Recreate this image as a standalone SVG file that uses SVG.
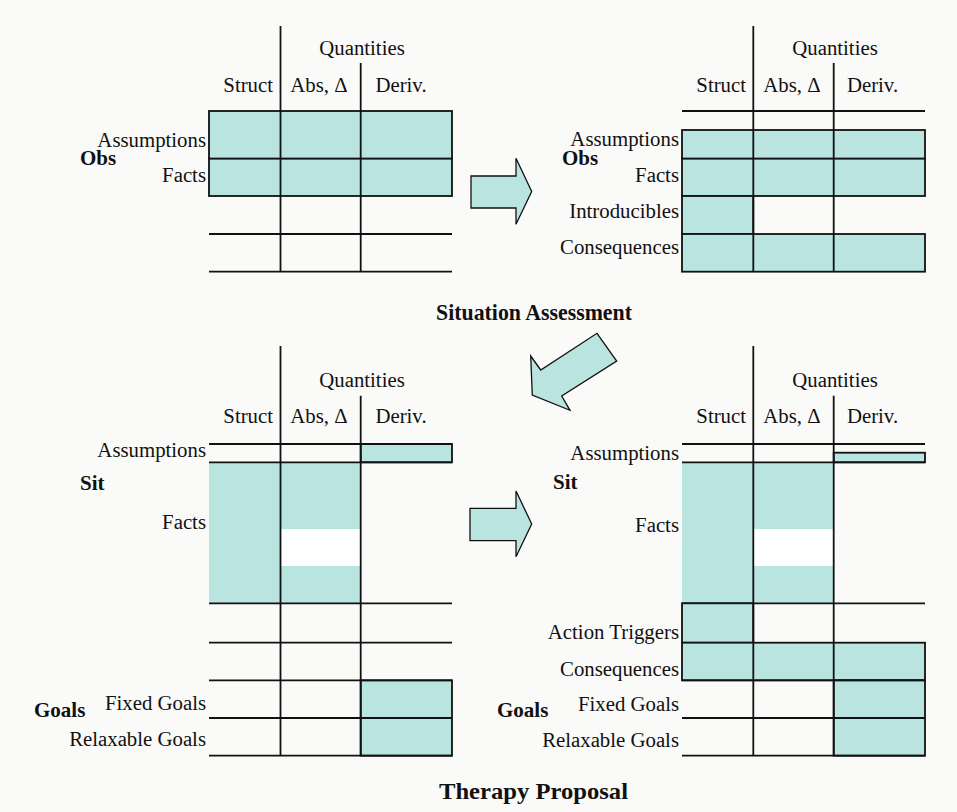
<svg xmlns="http://www.w3.org/2000/svg" width="957" height="812" viewBox="0 0 957 812">
<style>
.t{font-family:"Liberation Serif","Times New Roman",serif;font-size:20.8px;fill:#111}
.b{font-family:"Liberation Serif","Times New Roman",serif;font-size:21px;font-weight:bold;fill:#111}
.h{font-family:"Liberation Serif","Times New Roman",serif;font-size:23px;font-weight:bold;fill:#111}
.r{text-anchor:end}
.m{text-anchor:middle}
.ln{stroke:#111;stroke-width:1.8;fill:none}
.f{fill:#b9e4e0;stroke:#111;stroke-width:1.8}
.fn{fill:#b9e4e0;stroke:none}
.ar{fill:#b9e4e0;stroke:#111;stroke-width:1.3;stroke-linejoin:miter}
</style>
<rect width="957" height="812" fill="#fafaf9"/>

<g id="table-obs">
<rect class="f" x="209" y="111" width="243" height="47.7"/>
<rect class="f" x="209" y="158.7" width="243" height="37.3"/>
<line class="ln" x1="209" y1="234" x2="452" y2="234"/>
<line class="ln" x1="209" y1="271.7" x2="452" y2="271.7"/>
<line class="ln" x1="280.5" y1="26" x2="280.5" y2="271.7"/>
<line class="ln" x1="360.7" y1="63" x2="360.7" y2="271.7"/>
<text class="t m" x="362" y="55">Quantities</text>
<text class="t r" x="273" y="92">Struct</text>
<text class="t m" x="319" y="92">Abs, Δ</text>
<text class="t m" x="401" y="92">Deriv.</text>
<text class="t r" x="206" y="146.7">Assumptions</text>
<text class="b" x="80" y="164.5">Obs</text>
<text class="t r" x="206" y="181.7">Facts</text>
</g>

<g id="table-assessed">
<line class="ln" x1="682" y1="111" x2="925" y2="111"/>
<rect class="f" x="682" y="130" width="243" height="28.7"/>
<rect class="f" x="682" y="158.7" width="243" height="37.3"/>
<rect class="f" x="682" y="196" width="71.3" height="38"/>
<rect class="f" x="682" y="234" width="243" height="37.7"/>
<line class="ln" x1="753.3" y1="26" x2="753.3" y2="271.7"/>
<line class="ln" x1="833.7" y1="63" x2="833.7" y2="271.7"/>
<text class="t m" x="835" y="55">Quantities</text>
<text class="t r" x="746" y="92">Struct</text>
<text class="t m" x="792" y="92">Abs, Δ</text>
<text class="t m" x="872.5" y="92">Deriv.</text>
<text class="t r" x="679" y="145.7">Assumptions</text>
<text class="b" x="562" y="165">Obs</text>
<text class="t r" x="679" y="181.7">Facts</text>
<text class="t r" x="679" y="218.3">Introducibles</text>
<text class="t r" x="679" y="254">Consequences</text>
</g>

<text id="title-assessment" class="h" x="436" y="320" textLength="196" lengthAdjust="spacingAndGlyphs">Situation Assessment</text>

<g id="table-sit">
<rect class="fn" x="209" y="462.3" width="151.7" height="141"/>
<rect x="281" y="529" width="79" height="37" fill="#ffffff"/>
<rect class="f" x="360.7" y="444" width="91.3" height="18.3"/>
<line class="ln" x1="209" y1="444" x2="452" y2="444"/>
<line class="ln" x1="209" y1="462.3" x2="452" y2="462.3"/>
<line class="ln" x1="209" y1="603.3" x2="452" y2="603.3"/>
<line class="ln" x1="209" y1="642.7" x2="452" y2="642.7"/>
<rect class="f" x="360.7" y="680.3" width="91.3" height="75.4"/>
<line class="ln" x1="209" y1="680.3" x2="452" y2="680.3"/>
<line class="ln" x1="209" y1="718" x2="452" y2="718"/>
<line class="ln" x1="209" y1="755.7" x2="452" y2="755.7"/>
<line class="ln" x1="280.5" y1="346" x2="280.5" y2="755.7"/>
<line class="ln" x1="360.7" y1="395.7" x2="360.7" y2="755.7"/>
<text class="t m" x="362" y="387">Quantities</text>
<text class="t r" x="273" y="423.3">Struct</text>
<text class="t m" x="319" y="423.3">Abs, Δ</text>
<text class="t m" x="401" y="423.3">Deriv.</text>
<text class="t r" x="206" y="456.7">Assumptions</text>
<text class="b" x="80" y="490">Sit</text>
<text class="t r" x="206" y="529.3">Facts</text>
<text class="b" x="34" y="716.7">Goals</text>
<text class="t r" x="206" y="709.5">Fixed Goals</text>
<text class="t r" x="206" y="746">Relaxable Goals</text>
</g>

<g id="table-therapy">
<rect class="fn" x="682" y="462.3" width="151.7" height="141"/>
<rect x="754" y="529" width="79" height="37" fill="#ffffff"/>
<line class="ln" x1="682" y1="444" x2="925" y2="444"/>
<rect class="f" x="833.7" y="452.7" width="91.3" height="9.6"/>
<line class="ln" x1="682" y1="462.3" x2="925" y2="462.3"/>
<line class="ln" x1="682" y1="603.3" x2="925" y2="603.3"/>
<rect class="f" x="682" y="603.3" width="71.3" height="39.4"/>
<rect class="f" x="682" y="642.7" width="243" height="37.6"/>
<rect class="f" x="833.7" y="680.3" width="91.3" height="75.4"/>
<line class="ln" x1="682" y1="680.3" x2="925" y2="680.3"/>
<line class="ln" x1="682" y1="718" x2="925" y2="718"/>
<line class="ln" x1="682" y1="755.7" x2="925" y2="755.7"/>
<line class="ln" x1="753.3" y1="346" x2="753.3" y2="755.7"/>
<line class="ln" x1="833.7" y1="395.7" x2="833.7" y2="755.7"/>
<text class="t m" x="835" y="387">Quantities</text>
<text class="t r" x="746" y="423.3">Struct</text>
<text class="t m" x="792" y="423.3">Abs, Δ</text>
<text class="t m" x="872.5" y="423.3">Deriv.</text>
<text class="t r" x="679" y="460">Assumptions</text>
<text class="b" x="553" y="489.3">Sit</text>
<text class="t r" x="679" y="531.7">Facts</text>
<text class="t r" x="679" y="639">Action Triggers</text>
<text class="t r" x="679" y="676">Consequences</text>
<text class="b" x="497" y="716.7">Goals</text>
<text class="t r" x="679" y="711">Fixed Goals</text>
<text class="t r" x="679" y="746.7">Relaxable Goals</text>
</g>

<text id="title-therapy" class="h" x="439" y="799" textLength="189" lengthAdjust="spacingAndGlyphs">Therapy Proposal</text>

<g id="connectors">
<polygon class="ar" points="471,176 516,176 516,158.3 531.7,191.5 516,224.3 516,208 471,208"/>
<polygon class="ar" points="597,333.3 616.7,361 561.7,396 570,410.3 532.3,395 530.7,356 540.7,370"/>
<polygon class="ar" points="470,508.3 516,508.3 516,491 531.7,524 516,556.7 516,540.7 470,540.7"/>
</g>
</svg>
